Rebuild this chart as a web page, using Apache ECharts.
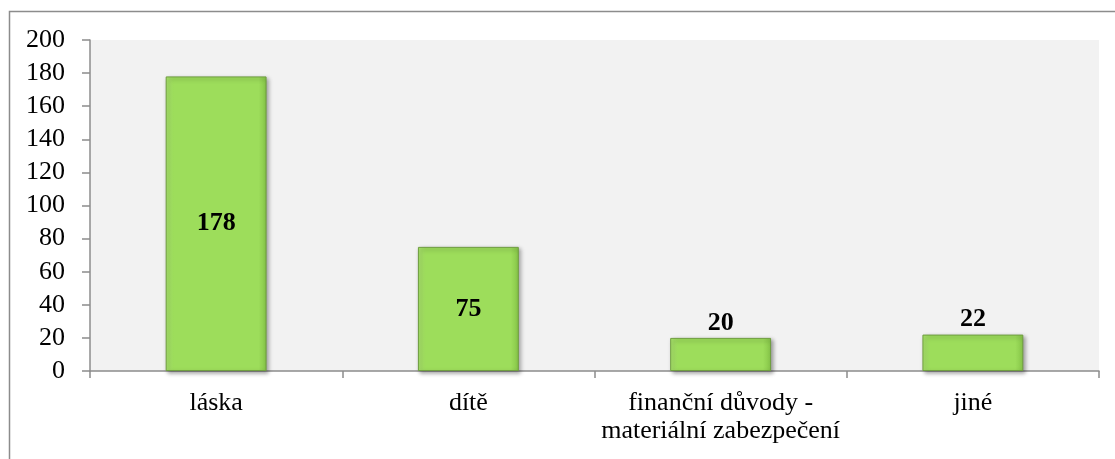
<!DOCTYPE html>
<html>
<head>
<meta charset="utf-8">
<script src="https://cdn.jsdelivr.net/npm/echarts@6/dist/echarts.min.js"></script>
<style>
  html, body { margin: 0; padding: 0; background: #fff; }
  #chart { width: 1115px; height: 459px; }
</style>
</head>
<body>
<div id="chart"></div>
<script>
const categories = ['láska', 'dítě', 'finanční důvody -\nmateriální zabezpečení', 'jiné'];
const values = [178, 75, 20, 22];
// small bars get the label above them
const labelPositions = ['inside', 'inside', 'top', 'top'];

const font = '"Liberation Serif", "Times New Roman", serif';

const myChart = echarts.init(document.getElementById('chart'));

const option = {
  animation: false,
  backgroundColor: '#fff',
  graphic: [{
    type: 'rect',
    shape: { x: 9.5, y: 11.5, width: 1300, height: 600 },
    style: { fill: 'none', stroke: '#8c8c8c', lineWidth: 1.5 },
    silent: true,
  }],
  grid: {
    left: 90,
    right: 16,
    top: 40,
    bottom: 88,
    show: true,
    backgroundColor: '#f2f2f2',
    borderWidth: 0,
  },
  xAxis: {
    type: 'category',
    data: categories,
    axisLine: { lineStyle: { color: '#8c8c8c', width: 1.5 } },
    axisTick: { show: true, length: 7, alignWithLabel: false, lineStyle: { color: '#8c8c8c', width: 1.5 } },
    axisLabel: {
      margin: 18,
      fontFamily: font,
      fontSize: 26,
      color: '#000',
      lineHeight: 28,
      interval: 0,
    },
  },
  yAxis: {
    type: 'value',
    min: 0,
    max: 200,
    interval: 20,
    splitLine: { show: false },
    axisLine: { show: true, lineStyle: { color: '#8c8c8c', width: 1.5 } },
    axisTick: { show: true, length: 8, lineStyle: { color: '#8c8c8c', width: 1.5 } },
    axisLabel: {
      margin: 25,
      fontFamily: font,
      fontSize: 26,
      color: '#000',
    },
  },
  series: [{
    type: 'bar',
    barWidth: '40%',
    data: values.map((v, i) => ({
      value: v,
      label: { position: labelPositions[i], distance: 2 },
    })),
    label: {
      show: true,
      fontFamily: font,
      fontSize: 26,
      fontWeight: 'bold',
      color: '#000',
    },
    itemStyle: {
      color: {
        type: 'linear', x: 0, y: 0, x2: 1, y2: 0,
        colorStops: [
          { offset: 0, color: '#a9e46c' },
          { offset: 0.08, color: '#9ddd5b' },
          { offset: 0.92, color: '#9ddd5b' },
          { offset: 1, color: '#86c548' },
        ],
      },
      borderColor: '#6f9e3f',
      borderWidth: 1,
      shadowColor: 'rgba(0,0,0,0.35)',
      shadowBlur: 4,
      shadowOffsetX: 2,
      shadowOffsetY: 2,
    },
  }],
};

myChart.setOption(option);
window.addEventListener('resize', () => {
  myChart.resize();
});
</script>
</body>
</html>
